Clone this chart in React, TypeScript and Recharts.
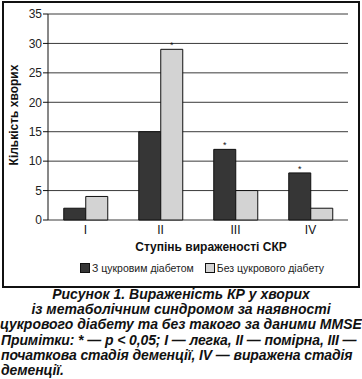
import { BarChart, Bar, XAxis, YAxis, CartesianGrid, LabelList } from 'recharts';

const stages = ['I', 'II', 'III', 'IV'];
const withDiabetes = [2, 15, 12, 8];
const withoutDiabetes = [4, 29, 5, 2];
// p < 0.05 marks
const sigWith = [false, false, true, true];
const sigWithout = [false, true, false, false];
const yTicks = [0, 5, 10, 15, 20, 25, 30, 35];
const seriesNames = ['З цукровим діабетом', 'Без цукрового діабету'];
const seriesColors = ['#363636', '#d3d3d3'];

const data = stages.map((stage, i) => ({
  stage,
  withD: withDiabetes[i],
  withoutD: withoutDiabetes[i],
  sigW: sigWith[i],
  sigWo: sigWithout[i],
}));

const font = '"Liberation Sans", Arial, sans-serif';

const starLabel = (flags: boolean[]) => (props: any) => {
  const { x, y, width, index } = props;
  if (!flags[index]) return null;
  return (
    <text x={x + width / 2} y={y - 1} textAnchor="middle" fontSize={9} fontFamily={font} fill="#111" stroke="none">
      *
    </text>
  );
};

const App = () => {
  return (
    <div style={{ position: 'absolute', left: 0, top: 0, width: 362, height: 379, background: '#fff', fontFamily: font }}>
      <div style={{ position: 'absolute', left: 2, top: 1, width: 354, height: 283, border: '2px solid #111' }} />
      <div style={{ position: 'absolute', left: 0, top: 0 }}>
        <BarChart
          width={362}
          height={288}
          data={data}
          margin={{ top: 14, right: 14, left: 2, bottom: 0 }}
          barCategoryGap="21%"
          barGap={0}
        >
          <CartesianGrid vertical={false} stroke="#3a3a3a" strokeWidth={1} />
          <XAxis
            xAxisId="bounds"
            type="number"
            domain={[0, 4]}
            ticks={[0, 1, 2, 3, 4]}
            allowDataOverflow
            height={0}
            tickSize={4}
            stroke="#111"
            tickFormatter={() => ''}
          />
          <XAxis
            dataKey="stage"
            height={68}
            axisLine={false}
            tickLine={false}
            tickSize={2}
            tickMargin={3}
            tick={{ fill: '#111', fontSize: 12, fontFamily: font }}
            label={{
              content: () => (
                <text x={211} y={247} textAnchor="middle" dominantBaseline="central" fontSize={12} fontWeight="bold" fontFamily={font} fill="#111">
                  Ступінь вираженості СКР
                </text>
              ),
            }}
          />
          <YAxis
            width={46}
            domain={[0, 35]}
            ticks={yTicks}
            tickSize={5}
            tickMargin={1}
            stroke="#111"
            tick={{ fill: '#222', fontSize: 12, fontFamily: font }}
            label={{
              content: (p: any) => {
                const vb = p.viewBox;
                const cx = vb.x + 12;
                const cy = vb.y + vb.height / 2 - 2;
                return (
                  <text x={cx} y={cy} transform={`rotate(-90 ${cx} ${cy})`} textAnchor="middle" dominantBaseline="central" fontSize={12} fontWeight="bold" fontFamily={font} fill="#111">
                    Кількість хворих
                  </text>
                );
              },
            }}
          />
          <YAxis yAxisId="frame" orientation="right" width={0} domain={[0, 35]} tick={false} tickLine={false} stroke="#111" />
          <Bar dataKey="withD" name={seriesNames[0]} fill={seriesColors[0]} stroke="#111" strokeWidth={1} isAnimationActive={false}>
            <LabelList dataKey="withD" content={starLabel(sigWith)} />
          </Bar>
          <Bar dataKey="withoutD" name={seriesNames[1]} fill={seriesColors[1]} stroke="#111" strokeWidth={1} isAnimationActive={false}>
            <LabelList dataKey="withoutD" content={starLabel(sigWithout)} />
          </Bar>
        </BarChart>
      </div>
      {/* legend */}
      <div style={{ position: 'absolute', left: 80, top: 262, display: 'flex', alignItems: 'center', fontSize: 10.5, color: '#222', whiteSpace: 'nowrap' }}>
        {seriesNames.map((name, i) => (
          <div key={name} style={{ display: 'flex', alignItems: 'center', marginRight: i === 0 ? 11 : 0 }}>
            <span style={{ display: 'inline-block', width: 8, height: 8, background: seriesColors[i], border: '1px solid #111', marginRight: 2 }} />
            <span>{name}</span>
          </div>
        ))}
      </div>
      {/* caption */}
      <div style={{ position: 'absolute', left: 0, top: 287, width: 362, fontSize: 14, lineHeight: '15px', fontWeight: 'bold', fontStyle: 'italic', color: '#111' }}>
        <div style={{ textAlign: 'center' }}>Рисунок 1. Вираженість КР у хворих</div>
        <div style={{ textAlign: 'center' }}>із метаболічним синдромом за наявності</div>
        <div style={{ textAlign: 'center' }}>цукрового діабету та без такого за даними MMSE</div>
        <div style={{ marginTop: 1, paddingLeft: 1, letterSpacing: -0.1 }}>
          <div>Примітки: * — p &lt; 0,05; I — легка, II — помірна, III —</div>
          <div>початкова стадія деменції, IV — виражена стадія</div>
          <div>деменції.</div>
        </div>
      </div>
    </div>
  );
};

export default App;
